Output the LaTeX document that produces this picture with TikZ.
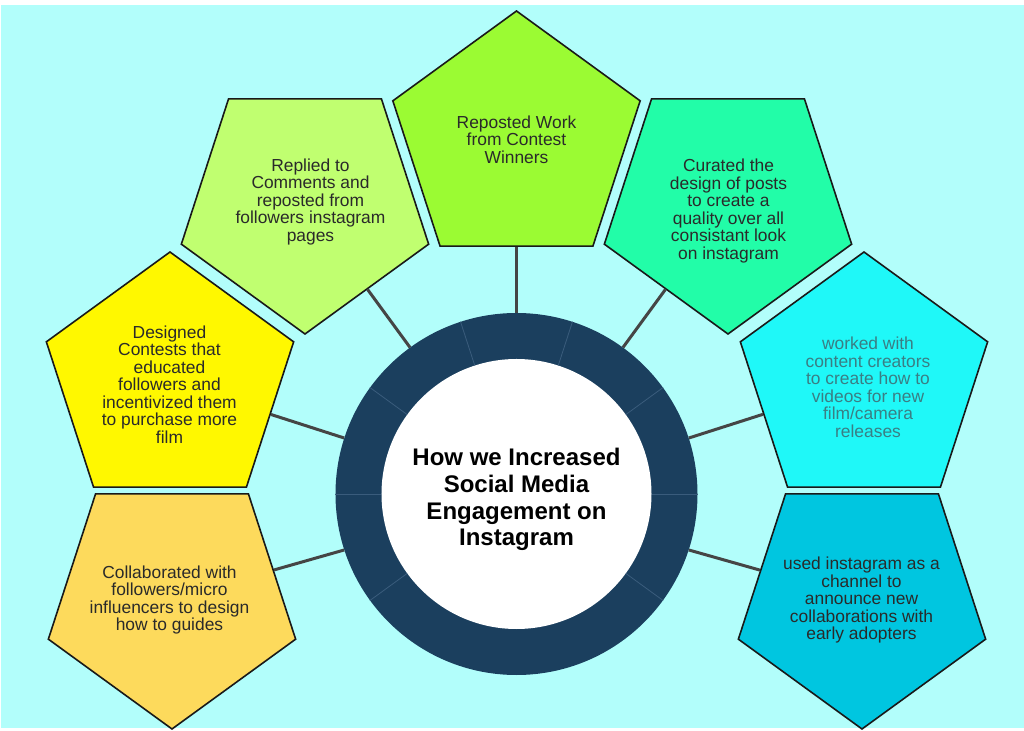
\documentclass[tikz,border=0pt]{standalone}
\usepackage{fontspec}
\setmainfont{Liberation Sans}
\usetikzlibrary{shapes.geometric}
\definecolor{bg}{HTML}{B2FEFB}
\definecolor{ringc}{HTML}{1B3F5E}
\definecolor{sepc}{HTML}{3A5C7C}
\definecolor{connc}{HTML}{454545}
\definecolor{txt}{HTML}{2A2A2A}
\definecolor{txtcyan}{HTML}{3A7E84}
\definecolor{cTop}{HTML}{9BFB33}
\definecolor{cReplied}{HTML}{C0FF70}
\definecolor{cCurated}{HTML}{22FDA8}
\definecolor{cDesigned}{HTML}{FFF800}
\definecolor{cWorked}{HTML}{1FF8F8}
\definecolor{cCollab}{HTML}{FDDA5C}
\definecolor{cUsed}{HTML}{00C6E0}
\begin{document}
\begin{tikzpicture}[x=1pt,y=1pt,
  pent/.style={regular polygon, regular polygon sides=5, minimum size=260pt,
    inner sep=0pt, draw=black!90, line width=1.6pt},
  pentdown/.style={pent, shape border rotate=180},
  ptext/.style={align=center, font=\fontsize{17.4}{17.5}\selectfont, text=txt, inner sep=0pt},
  conn/.style={draw=connc, line width=3pt},
  sepline/.style={draw=sepc, line width=0.8pt}]
\useasboundingbox (-516.5,-236) rectangle (507.5,494);
\fill[white] (-516.5,-236) rectangle (507.5,494);
\fill[bg] (-515.5,-234) rectangle (507.5,489);

% pentagons
\node[pent, fill=cTop] (p1) at (0,353) {};
\node[pentdown, fill=cReplied] (p2) at (-211.5,290) {};
\node[pentdown, fill=cCurated] (p3) at (211.5,290) {};
\node[pent, fill=cDesigned] (p4) at (-346.5,112) {};
\node[pent, fill=cWorked] (p5) at (347.5,112) {};
\node[pentdown, fill=cCollab] (p6) at (-344.5,-105) {};
\node[pentdown, fill=cUsed] (p7) at (345.5,-105) {};

% ring
\node[circle, fill=ringc, minimum size=362pt, inner sep=0pt] (ring) at (0,0) {};
\node[circle, fill=white, minimum size=270pt, inner sep=0pt] (hub) at (0,0) {};
\foreach \a in {0,36,72,108,144,180,216,324}
  \draw[sepline] (hub.\a) -- (ring.\a);
\node[align=center, inner sep=0pt, text=black,
  font=\bfseries\fontsize{24}{26.7}\selectfont] (title) at (0,-5.5)
  {How we Increased\\Social Media\\Engagement on\\Instagram};

% connectors
\draw[conn] (ring.90) -- (p1);
\draw[conn] (ring.126) -- (p2);
\draw[conn] (ring.54) -- (p3);
\draw[conn] (ring.162) -- (p4);
\draw[conn] (ring.18) -- (p5);
\draw[conn] (ring.198) -- (p6);
\draw[conn] (ring.342) -- (p7);

% texts
\node[ptext] (t1) at (0,354.5) {Reposted Work\\from Contest\\Winners};
\node[ptext] (t2) at (-206,292) {Replied to\\Comments and\\reposted from\\followers instagram\\pages};
\node[ptext] (t3) at (212,283) {Curated the\\design of posts\\to create a\\quality over all\\consistant look\\on instagram};
\node[ptext] (t4) at (-347,109.5) {Designed\\Contests that\\educated\\followers and\\incentivized them\\to purchase more\\film};
\node[ptext, text=txtcyan] (t5) at (351.5,106.5) {worked with\\content creators\\to create how to\\videos for new\\film/camera\\releases};
\node[ptext] (t6) at (-347,-106) {Collaborated with\\followers/micro\\influencers to design\\how to guides};
\node[ptext] (t7) at (345,-106) {used instagram as a\\channel to\\announce new\\collaborations with\\early adopters};
\end{tikzpicture}
\end{document}
